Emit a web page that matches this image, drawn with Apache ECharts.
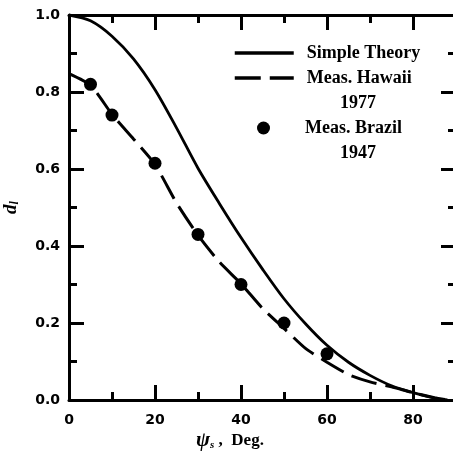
<!DOCTYPE html>
<html>
<head>
<meta charset="utf-8">
<script src="https://cdn.jsdelivr.net/npm/echarts@6/dist/echarts.min.js"></script>
<style>html,body{margin:0;padding:0;background:#fff}#c{width:453px;height:457px}</style>
</head>
<body>
<div id="c"></div>
<script>
// ---- data ----
const theoryX = [0, 5, 10, 15, 20, 25, 30, 35, 40, 45, 50, 55, 60, 65, 70, 75, 80, 85, 88];
const theoryY = [1.0, 0.985, 0.945, 0.886, 0.806, 0.707, 0.602, 0.510, 0.422, 0.340, 0.263, 0.198, 0.142, 0.098, 0.064, 0.037, 0.019, 0.005, 0.0];
const hawaiiX = [0, 5, 10, 15, 20, 25, 30, 35, 40, 45, 50, 55, 60, 65, 70, 75, 80, 85, 88];
const hawaiiY = [0.848, 0.818, 0.742, 0.678, 0.612, 0.512, 0.428, 0.358, 0.302, 0.238, 0.186, 0.134, 0.098, 0.066, 0.047, 0.034, 0.019, 0.006, 0.0];
const brazilX = [5, 10, 20, 30, 40, 50, 60];
const brazilY = [0.82, 0.74, 0.615, 0.43, 0.30, 0.20, 0.12];
const xTicks = [0, 20, 40, 60, 80];
const yTicks = [0.0, 0.2, 0.4, 0.6, 0.8, 1.0];

const zip = (xs, ys) => xs.map((x, i) => [x, ys[i]]);
const chart = echarts.init(document.getElementById('c'), null, {renderer: 'canvas'});
const labelFont = {fontFamily: 'DejaVu Sans', fontWeight: 'bold', fontSize: 14, color: '#000'};
const serifBold = {fontFamily: 'Liberation Serif', fontWeight: 'bold', fontSize: 18, color: '#000'};
const axLine = {show: true, onZero: false, lineStyle: {color: '#000', width: 3}};
const tick = {show: true, inside: true, length: 15, lineStyle: {color: '#000', width: 3}};
const minor = {show: true, splitNumber: 2, length: 8, lineStyle: {color: '#000', width: 3}};
const hidden = {color: 'rgba(0,0,0,0)', borderColor: 'rgba(0,0,0,0)', borderWidth: 0};

chart.setOption({
  animation: false,
  backgroundColor: '#fff',
  grid: {left: 69, width: 387, top: 15, height: 385, outerBoundsMode: 'none', containLabel: false},
  title: {
    text: '{a|ψ}{s|s}{c| ,  Deg.}',
    left: 196, top: 430, padding: 0,
    textStyle: {rich: {
      a: {fontFamily: 'Liberation Serif', fontStyle: 'italic', fontWeight: 'bold', fontSize: 21, color: '#000'},
      s: {fontFamily: 'Liberation Serif', fontStyle: 'italic', fontWeight: 'bold', fontSize: 11, color: '#000', verticalAlign: 'bottom', padding: [8, 0, 0, 0]},
      c: {fontFamily: 'Liberation Serif', fontWeight: 'bold', fontSize: 17, color: '#000'}
    }}
  },
  legend: [
    {
      data: [
        {name: 'Simple Theory', itemStyle: hidden, lineStyle: {width: 3.5}},
        {name: 'Meas. Hawaii', itemStyle: hidden, lineStyle: {width: 3.5}}
      ],
      orient: 'vertical', left: 233, top: 44, padding: 0, itemWidth: 59, itemHeight: 14, itemGap: 7,
      textStyle: Object.assign({padding: [0, 0, 0, 8]}, serifBold)
    },
    {
      data: ['Meas. Brazil'],
      orient: 'vertical', left: 257, top: 119, padding: 0, itemWidth: 13, itemHeight: 13,
      textStyle: Object.assign({padding: [0, 0, 0, 30]}, serifBold)
    }
  ],
  graphic: [
    {type: 'text', left: 340, top: 94, style: {text: '1977', font: 'bold 18px "Liberation Serif"', fill: '#000'}},
    {type: 'text', left: 340, top: 144, style: {text: '1947', font: 'bold 18px "Liberation Serif"', fill: '#000'}}
  ],
  xAxis: [
    {
      type: 'value', min: 0, max: 90, interval: 20,
      axisLine: axLine, axisTick: tick, minorTick: minor, splitLine: {show: false},
      axisLabel: Object.assign({margin: 13, showMaxLabel: false, formatter: v => xTicks.includes(v) ? String(v) : ''}, labelFont)
    },
    {
      type: 'value', min: 0, max: 90, interval: 20, position: 'top',
      axisLine: axLine, axisTick: tick, minorTick: minor, splitLine: {show: false}, axisLabel: {show: false}
    }
  ],
  yAxis: [
    {
      type: 'value', min: 0, max: 1, interval: 0.2,
      axisLine: axLine, axisTick: tick, minorTick: minor, splitLine: {show: false},
      axisLabel: Object.assign({margin: 9, formatter: v => yTicks.find(t => Math.abs(t - v) < 1e-9).toFixed(1)}, labelFont),
      name: '{d|d}{l|l}', nameLocation: 'middle', nameGap: 48, nameRotate: 90,
      nameTextStyle: {rich: {
        d: {fontFamily: 'Liberation Serif', fontStyle: 'italic', fontWeight: 'bold', fontSize: 19, color: '#000'},
        l: {fontFamily: 'Liberation Serif', fontStyle: 'italic', fontWeight: 'bold', fontSize: 12, color: '#000', padding: [8, 0, 0, 0]}
      }}
    },
    {
      type: 'value', min: 0, max: 1, interval: 0.2, position: 'right',
      axisLine: axLine, axisTick: tick, minorTick: minor, splitLine: {show: false}, axisLabel: {show: false}
    }
  ],
  series: [
    {
      name: 'Simple Theory', type: 'line', data: zip(theoryX, theoryY), smooth: 0.3,
      symbol: 'none', lineStyle: {color: '#000', width: 2.8}, itemStyle: {color: '#000'}
    },
    {
      name: 'Meas. Hawaii', type: 'line', data: zip(hawaiiX, hawaiiY), smooth: 0.2,
      symbol: 'none', lineStyle: {color: '#000', width: 3, type: [26, 9]}, itemStyle: {color: '#000'}
    },
    {
      name: 'Meas. Brazil', type: 'scatter', data: zip(brazilX, brazilY),
      symbol: 'circle', symbolSize: 13, itemStyle: {color: '#000', opacity: 1}, z: 5
    }
  ]
});
</script>
</body>
</html>
